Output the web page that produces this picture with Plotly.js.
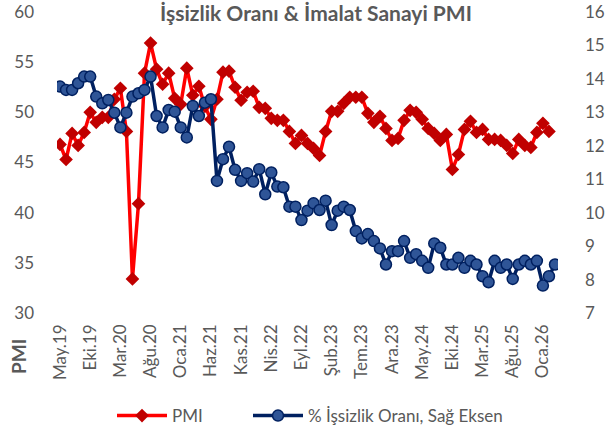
<!DOCTYPE html>
<html>
<head>
<meta charset="utf-8">
<script src="https://cdn.plot.ly/plotly-3.0.1.min.js"></script>
<style>html,body{margin:0;padding:0;background:#fff;}#chart{width:614px;height:430px;}</style>
</head>
<body>
<div id="chart"></div>
<script>
const categories = [
 "May.19","Haz.19","Tem.19","Ağu.19","Eyl.19","Eki.19","Kas.19","Ara.19",
 "Oca.20","Şub.20","Mar.20","Nis.20","May.20","Haz.20","Tem.20","Ağu.20","Eyl.20","Eki.20","Kas.20","Ara.20",
 "Oca.21","Şub.21","Mar.21","Nis.21","May.21","Haz.21","Tem.21","Ağu.21","Eyl.21","Eki.21","Kas.21","Ara.21",
 "Oca.22","Şub.22","Mar.22","Nis.22","May.22","Haz.22","Tem.22","Ağu.22","Eyl.22","Eki.22","Kas.22","Ara.22",
 "Oca.23","Şub.23","Mar.23","Nis.23","May.23","Haz.23","Tem.23","Ağu.23","Eyl.23","Eki.23","Kas.23","Ara.23",
 "Oca.24","Şub.24","Mar.24","Nis.24","May.24","Haz.24","Tem.24","Ağu.24","Eyl.24","Eki.24","Kas.24","Ara.24",
 "Oca.25","Şub.25","Mar.25","Nis.25","May.25","Haz.25","Tem.25","Ağu.25","Eyl.25","Eki.25","Kas.25","Ara.25",
 "Oca.26","Şub.26","Mar.26"
];
const tickLabels = ["May.19","Eki.19","Mar.20","Ağu.20","Oca.21","Haz.21","Kas.21","Nis.22","Eyl.22","Şub.23","Tem.23","Ara.23","May.24","Eki.24","Mar.25","Ağu.25","Oca.26"];

const pmi = [
 46.8,45.3,47.9,46.7,48.0,50.0,49.0,49.5,49.5,
 51.3,52.4,48.1,33.4,40.9,53.9,56.9,54.3,52.8,53.9,51.4,50.8,
 54.4,51.7,52.6,50.6,49.3,51.3,54.0,54.1,52.5,51.2,52.0,52.1,
 50.5,50.4,49.4,49.2,49.2,48.1,46.9,47.7,46.9,46.4,45.7,48.1,
 50.1,50.1,50.9,51.5,51.5,51.5,49.9,49.0,49.6,48.4,47.2,47.4,
 49.2,50.2,50.0,49.3,48.4,47.9,47.2,47.8,44.3,45.8,48.3,49.1,
 48.0,48.3,47.3,47.3,47.2,46.7,45.9,47.3,46.7,46.5,48.0,48.9,
 48.1,null
];
const unemployment = [
 13.77,13.67,13.67,13.87,14.07,14.07,13.47,13.27,13.37,12.99,
 12.55,12.99,13.47,13.57,13.67,14.07,12.89,12.55,13.07,13.02,
 12.55,12.25,13.19,12.89,13.29,13.39,10.95,11.60,11.97,11.28,
 10.95,11.18,10.93,11.30,10.55,11.20,10.78,10.76,10.18,10.18,
 9.78,10.06,10.28,10.08,10.36,9.63,10.06,10.18,10.08,9.45,
 9.23,9.36,9.15,8.93,8.45,8.85,8.85,9.15,8.65,8.76,
 8.56,8.35,9.08,8.95,8.45,8.45,8.65,8.35,8.56,8.45,
 8.10,7.92,8.56,8.35,8.45,8.02,8.45,8.56,8.45,8.56,
 7.82,8.10,8.45
];

const gray = "#595959";
const fontFam = "Lato, 'Open Sans', sans-serif";

const traces = [
 {
  x: categories, y: pmi, name: "PMI", type: "scatter", mode: "lines+markers",
  line: {color: "#FF0000", width: 3.5},
  marker: {symbol: "diamond", size: 10.5, color: "#C00000"},
  yaxis: "y", legend: "legend"
 },
 {
  x: categories, y: unemployment, name: "% İşsizlik Oranı, Sağ Eksen", type: "scatter", mode: "lines+markers",
  line: {color: "#002060", width: 3.5},
  marker: {symbol: "circle", size: 11, color: "#2F5597", line: {color: "#002060", width: 1.5}},
  yaxis: "y2", legend: "legend2"
 }
];

const legendBase = {
 orientation: "h", xanchor: "left", yanchor: "middle",
 y: (313-416)/301,
 itemwidth: 50,
 font: {family: fontFam, size: 17, color: gray},
 bgcolor: "rgba(0,0,0,0)"
};

const layout = {
 width: 614, height: 430,
 margin: {l: 57, r: 56, t: 12, b: 117, autoexpand: false},
 paper_bgcolor: "#ffffff", plot_bgcolor: "#ffffff",
 font: {family: fontFam, color: gray, size: 16},
 title: {
  text: "<b>İşsizlik Oranı & İmalat Sanayi PMI</b>",
  font: {family: fontFam, size: 21, color: gray},
  x: 316/614, xref: "container", xanchor: "center",
  y: 1 - 14/430, yref: "container", yanchor: "middle"
 },
 xaxis: {
  type: "category",
  categoryorder: "array", categoryarray: categories,
  range: [-0.5, categories.length - 0.5],
  tickmode: "array", tickvals: tickLabels, ticktext: tickLabels,
  tickangle: -90,
  tickfont: {family: fontFam, size: 17, color: gray},
  showgrid: false, zeroline: false, showline: false, ticks: "",
  ticklabelstandoff: 7,
  automargin: false,
  fixedrange: true
 },
 yaxis: {
  range: [30, 60], dtick: 5, tick0: 30,
  tickfont: {family: fontFam, size: 17, color: gray},
  showgrid: false, zeroline: false, showline: false, ticks: "",
  ticklabelstandoff: 22, automargin: false
 },
 yaxis2: {
  range: [7, 16], dtick: 1, tick0: 7,
  overlaying: "y", side: "right",
  tickfont: {family: fontFam, size: 17, color: gray},
  showgrid: false, zeroline: false, showline: false, ticks: "",
  ticklabelstandoff: 26, automargin: false
 },
 showlegend: true,
 legend: Object.assign({}, legendBase, {x: (112-57)/501}),
 legend2: Object.assign({}, legendBase, {x: (248-57)/501}),
 annotations: [
  {
   text: "<b>PMI</b>", xref: "paper", yref: "paper",
   x: (18-57)/501, y: (313-357)/301,
   xanchor: "center", yanchor: "middle",
   textangle: -90, showarrow: false,
   font: {family: fontFam, size: 19, color: gray}
  }
 ]
};

Plotly.newPlot("chart", traces, layout, {displayModeBar: false, staticPlot: true});
</script>
</body>
</html>
